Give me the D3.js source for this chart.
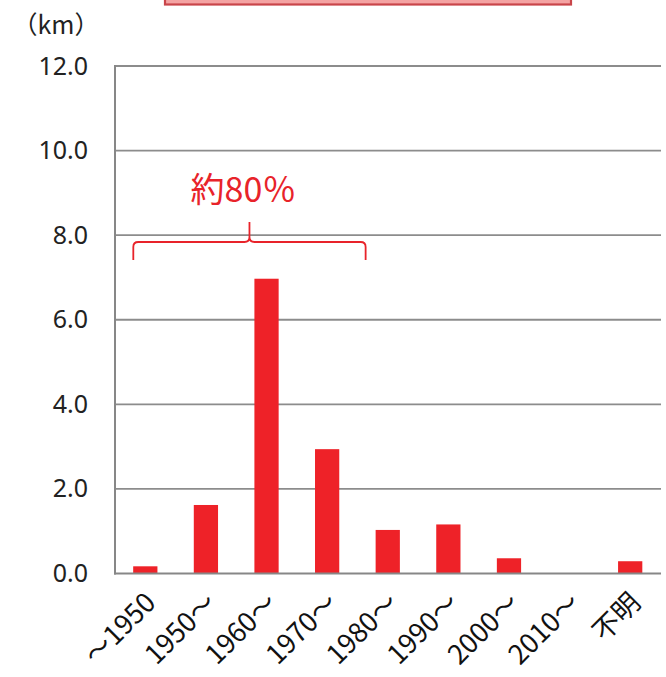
<!DOCTYPE html>
<html>
<head>
<meta charset="utf-8">
<script src="https://cdn.jsdelivr.net/npm/d3@7/dist/d3.min.js"></script>
<style>
  html, body { margin: 0; padding: 0; background: #fff; }
  svg { display: block; }
  text { font-family: "Noto Sans CJK JP", "Noto Sans", sans-serif; }
</style>
</head>
<body>
<svg id="chart" width="666" height="677"></svg>
<script>
// Pipe length by installation period (km)
const categories = ["～1950", "1950～", "1960～", "1970～", "1980～", "1990～", "2000～", "2010～", "不明"];
const lengths = [0.17, 1.62, 6.97, 2.94, 1.03, 1.16, 0.36, 0, 0.29];
const yTicks = [0, 2, 4, 6, 8, 10, 12];
const unitLabel = "（km）";
const shareLabel = "約80％";
const shareRange = ["～1950", "1980～"];

const svg = d3.select("#chart");
const margin = { left: 115, right: 5, top: 67, bottom: 103 };

const x = d3.scaleBand()
  .domain(categories)
  .range([margin.left, 660.5])
  .paddingInner(0.6)
  .paddingOuter(0.3);

const y = d3.scaleLinear()
  .domain([0, 12])
  .range([573.5, margin.top - 1]);

// title box at the top (clipped by the frame)
svg.append("rect")
  .attr("x", 165).attr("y", -20)
  .attr("width", 406).attr("height", 24.5)
  .attr("fill", "#f4a3a3")
  .attr("stroke", "#c9454a")
  .attr("stroke-width", 2.2);

// horizontal gridlines
svg.append("g")
  .selectAll("line")
  .data(yTicks.filter(d => d > 0))
  .join("line")
  .attr("x1", margin.left).attr("x2", 661)
  .attr("y1", d => y(d)).attr("y2", d => y(d))
  .attr("stroke", "#8c8c8c")
  .attr("stroke-width", 1.8);

// y axis labels
const yAxis = d3.axisLeft(y).tickValues(yTicks).tickFormat(d3.format(".1f")).tickSize(0).tickPadding(27);
svg.append("g")
  .attr("transform", `translate(${margin.left},0)`)
  .call(yAxis)
  .call(g => g.select(".domain").remove())
  .call(g => g.selectAll("text")
    .attr("font-size", 25)
    .attr("fill", "#222")
    .style("font-family", "'Noto Sans', sans-serif"));

svg.append("text")
  .attr("x", 56).attr("y", 34)
  .attr("text-anchor", "middle")
  .attr("font-size", 25)
  .attr("fill", "#222")
  .text(unitLabel);

// bars
svg.append("g")
  .selectAll("rect")
  .data(categories.map((c, i) => ({ c, v: lengths[i] })))
  .join("rect")
  .attr("x", d => x(d.c))
  .attr("width", x.bandwidth())
  .attr("y", d => y(d.v))
  .attr("height", d => y(0) - y(d.v))
  .attr("fill", "#ee2228");

// axis lines
svg.append("line")
  .attr("x1", margin.left).attr("x2", margin.left)
  .attr("y1", y(12) - 1).attr("y2", y(0) + 1)
  .attr("stroke", "#878787").attr("stroke-width", 2);
svg.append("line")
  .attr("x1", margin.left - 1).attr("x2", 661)
  .attr("y1", y(0)).attr("y2", y(0))
  .attr("stroke", "#878787").attr("stroke-width", 2.2);

// x axis labels, rotated
const xAxis = d3.axisBottom(x).tickSize(0).tickPadding(0);
svg.append("g")
  .attr("transform", `translate(0,${y(0)})`)
  .call(xAxis)
  .call(g => g.select(".domain").remove())
  .call(g => g.selectAll("text")
    .attr("font-size", 27)
    .attr("fill", "#111")
    .attr("text-anchor", "end")
    .attr("dy", 0)
    .attr("transform", "translate(12,31) rotate(-45)"));

// brace spanning the first four periods
const bx0 = x(shareRange[0]) + x.bandwidth() / 2 - 12;
const bx1 = x(shareRange[1]) - 10;
const bm = (bx0 + bx1) / 2;
const by = 242, r = 5;
const brace = d3.path();
brace.moveTo(bx0, 260);
brace.lineTo(bx0, by + r);
brace.quadraticCurveTo(bx0, by, bx0 + r, by);
brace.lineTo(bm - r, by);
brace.quadraticCurveTo(bm, by, bm, by - r);
brace.lineTo(bm, 222);
brace.moveTo(bm, by - r);
brace.quadraticCurveTo(bm, by, bm + r, by);
brace.lineTo(bx1 - r, by);
brace.quadraticCurveTo(bx1, by, bx1, by + r);
brace.lineTo(bx1, 260);
svg.append("path")
  .attr("d", brace.toString())
  .attr("fill", "none")
  .attr("stroke", "#e8232a")
  .attr("stroke-width", 1.8);

svg.append("text")
  .attr("x", bm - 6).attr("y", 202)
  .attr("text-anchor", "middle")
  .attr("font-size", 34)
  .attr("fill", "#e8232a")
  .text(shareLabel);
</script>
</body>
</html>
